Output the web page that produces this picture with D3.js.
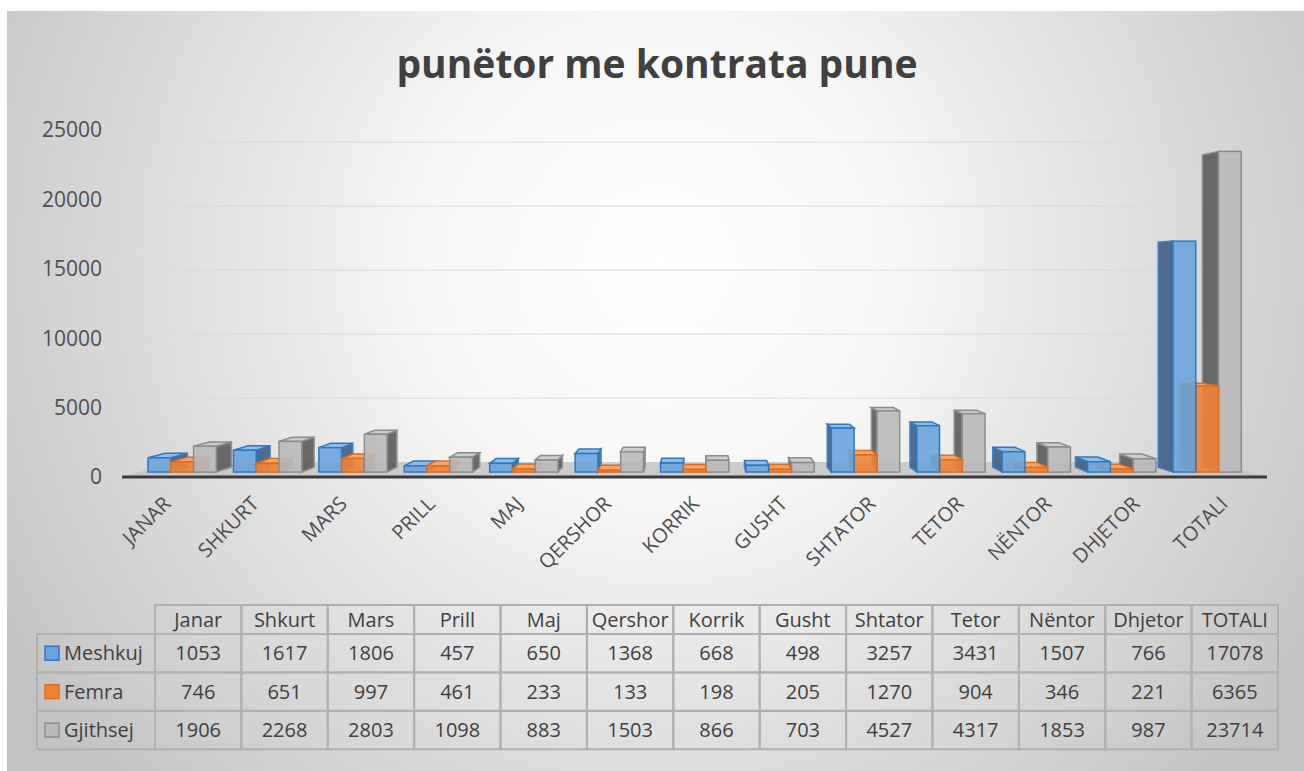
<!DOCTYPE html>
<meta charset="utf-8">
<style>
body { margin: 0; background: #fff; }
svg { display: block; font-family: "Open Sans", sans-serif; }
.tick-label { fill: #4f4f4f; font-size: 21px; }
.cat-label { fill: #4f4f4f; font-size: 20px; }
.title { fill: #404040; font-size: 39px; font-weight: bold; }
.grid { fill: none; stroke: #d9d9d9; stroke-width: 1px; }
.cell { fill: none; stroke: #b0b0b0; stroke-width: 2px; }
.cell-text { fill: #404040; font-size: 20px; }
</style>
<body>
<script src="https://cdnjs.cloudflare.com/ajax/libs/d3/7.8.5/d3.min.js"></script>
<script>
var width = 1304,
    height = 771;

var categories = ["JANAR", "SHKURT", "MARS", "PRILL", "MAJ", "QERSHOR", "KORRIK", "GUSHT", "SHTATOR", "TETOR", "NËNTOR", "DHJETOR", "TOTALI"];
var tableHeaders = ["Janar", "Shkurt", "Mars", "Prill", "Maj", "Qershor", "Korrik", "Gusht", "Shtator", "Tetor", "Nëntor", "Dhjetor", "TOTALI"];
var seriesNames = ["Meshkuj", "Femra", "Gjithsej"];
var meshkuj = [1053, 1617, 1806, 457, 650, 1368, 668, 498, 3257, 3431, 1507, 766, 17078];
var femra = [746, 651, 997, 461, 233, 133, 198, 205, 1270, 904, 346, 221, 6365];
var gjithsej = [1906, 2268, 2803, 1098, 883, 1503, 866, 703, 4527, 4317, 1853, 987, 23714];
var yTicks = [0, 5000, 10000, 15000, 20000, 25000];

var seriesValues = [meshkuj, femra, gjithsej];

var colors = {
  Meshkuj: {front: "#6aa4db", side: "#3f5f86", top: "#8fbde8", stroke: "#2f78c0"},
  Femra: {front: "#ee8438", side: "#b65a1d", top: "#f5a56e", stroke: "#e06d1c"},
  Gjithsej: {front: "#b9b9b9", side: "#5c5c5c", top: "#cdcdcd", stroke: "#8c8c8c"}
};

// simple perspective: z = 0 front plane, z = 1 back wall
var vx = 700, vy = 285, kx = 0.0917, ky = 0.078;
function P(X, Y, z) {
  var sx = 1 - kx * z, sy = 1 - ky * z;
  return [vx + (X - vx) * sx, vy + (Y - vy) * sy];
}
var zFront = 0.33, zBack = 0.66;

var x = d3.scaleBand().domain(categories).range([122, 1267]);
var xs = d3.scaleBand().domain(seriesNames).range([0, x.bandwidth() * 0.8]);
var y = d3.scaleLinear().domain([0, 25000]).range([477, 130]);

var svg = d3.select("body").append("svg")
    .attr("width", width)
    .attr("height", height);

var defs = svg.append("defs");
var bg = defs.append("radialGradient")
    .attr("id", "bg")
    .attr("gradientUnits", "userSpaceOnUse")
    .attr("cx", 660).attr("cy", 260).attr("r", 780);
bg.append("stop").attr("offset", 0).attr("stop-color", "#ffffff");
bg.append("stop").attr("offset", 0.3).attr("stop-color", "#f7f7f7");
bg.append("stop").attr("offset", 1).attr("stop-color", "#c2c2c2");

svg.append("rect")
    .attr("x", 7).attr("y", 11)
    .attr("width", width - 7).attr("height", height - 11)
    .attr("fill", "url(#bg)");

svg.append("text")
    .attr("class", "title")
    .attr("x", 657).attr("y", 78)
    .attr("text-anchor", "middle")
    .text("punëtor me kontrata pune");

// gridlines: left wall + back wall
var line = d3.line();
svg.selectAll(".grid")
    .data(yTicks.filter(function(t) { return t > 0; }))
  .enter().append("path")
    .attr("class", "grid")
    .attr("d", function(t) {
      return line([P(122, y(t), 0), P(122, y(t), 1), P(1267, y(t), 1)]);
    });

svg.selectAll(".tick-label")
    .data(yTicks)
  .enter().append("text")
    .attr("class", "tick-label")
    .attr("x", 102)
    .attr("y", function(t) { return y(t); })
    .attr("dy", "0.35em")
    .attr("text-anchor", "end")
    .text(function(t) { return t; });

// floor
svg.append("path")
    .attr("d", line([P(122, y(0), 0), P(1267, y(0), 0), P(1267, y(0), 1), P(122, y(0), 1)]) + "Z")
    .attr("fill", "#c4c4c4")
    .attr("opacity", 0.85);
svg.append("path")
    .attr("d", line([P(122, y(0), 0), P(1267, y(0), 0)]))
    .attr("stroke", "#3a3a3a")
    .attr("stroke-width", 3);

// bars
var bars = [];
categories.forEach(function(c, i) {
  seriesNames.forEach(function(s, j) {
    var X0 = x(c) + x.bandwidth() * 0.1 + xs(s);
    bars.push({cat: c, series: s, value: seriesValues[j][i], X0: X0, X1: X0 + xs.bandwidth()});
  });
});
bars.sort(function(a, b) {
  return Math.abs((b.X0 + b.X1) / 2 - vx) - Math.abs((a.X0 + a.X1) / 2 - vx);
});

var barG = svg.append("g");
bars.forEach(function(b) {
  var g = barG.append("g");
  var col = colors[b.series];
  var yt = y(b.value), yb = y(0);
  var sideX = null;
  if (b.X1 < vx) sideX = b.X1;
  else if (b.X0 > vx) sideX = b.X0;
  if (sideX !== null) {
    g.append("path")
        .attr("d", line([P(sideX, yt, zFront), P(sideX, yt, zBack), P(sideX, yb, zBack), P(sideX, yb, zFront)]) + "Z")
        .attr("fill", col.side)
        .attr("stroke", col.stroke)
        .attr("stroke-width", 1.5)
        .attr("opacity", 0.9);
  }
  if (P(0, yt, zFront)[1] > vy) {
    g.append("path")
        .attr("d", line([P(b.X0, yt, zFront), P(b.X1, yt, zFront), P(b.X1, yt, zBack), P(b.X0, yt, zBack)]) + "Z")
        .attr("fill", col.top)
        .attr("stroke", col.stroke)
        .attr("stroke-width", 1.5);
  }
  var f0 = P(b.X0, yt, zFront), f1 = P(b.X1, yb, zFront);
  g.append("rect")
      .attr("x", f0[0]).attr("y", f0[1])
      .attr("width", f1[0] - f0[0]).attr("height", f1[1] - f0[1])
      .attr("fill", col.front)
      .attr("fill-opacity", 0.9)
      .attr("stroke", col.stroke)
      .attr("stroke-width", 1.5);
});

svg.selectAll(".cat-label")
    .data(categories)
  .enter().append("text")
    .attr("class", "cat-label")
    .attr("text-anchor", "end")
    .attr("transform", function(c) {
      return "translate(" + (x(c) + x.bandwidth() / 2 + 6) + ",505) rotate(-45)";
    })
    .text(function(c) { return c; });

// data table
var colX = d3.scaleBand().domain(tableHeaders).range([155, 1278]);
var rowY = d3.scaleBand().domain(seriesNames).range([634, 749.3]);
var table = svg.append("g");

table.selectAll(".head")
    .data(tableHeaders)
  .enter().append("rect")
    .attr("class", "cell")
    .attr("x", function(h) { return colX(h); })
    .attr("y", 605)
    .attr("width", colX.bandwidth())
    .attr("height", 634 - 605);
table.selectAll(".head-text")
    .data(tableHeaders)
  .enter().append("text")
    .attr("class", "cell-text")
    .attr("x", function(h) { return colX(h) + colX.bandwidth() / 2; })
    .attr("y", 620)
    .attr("dy", "0.35em")
    .attr("text-anchor", "middle")
    .text(function(h) { return h; });

seriesNames.forEach(function(s, j) {
  var ry = rowY(s), rh = rowY.bandwidth();
  table.append("rect")
      .attr("class", "cell")
      .attr("x", 37).attr("y", ry)
      .attr("width", 155 - 37).attr("height", rh);
  table.append("rect")
      .attr("x", 45).attr("y", ry + rh / 2 - 7)
      .attr("width", 14).attr("height", 14)
      .attr("fill", colors[s].front)
      .attr("stroke", colors[s].stroke)
      .attr("stroke-width", 1.5);
  table.append("text")
      .attr("class", "cell-text")
      .attr("x", 64).attr("y", ry + rh / 2)
      .attr("dy", "0.35em")
      .text(s);
  table.selectAll(".row" + j)
      .data(seriesValues[j])
    .enter().append("rect")
      .attr("class", "cell")
      .attr("x", function(v, i) { return colX(tableHeaders[i]); })
      .attr("y", ry)
      .attr("width", colX.bandwidth())
      .attr("height", rh);
  table.selectAll(".rowtext" + j)
      .data(seriesValues[j])
    .enter().append("text")
      .attr("class", "cell-text")
      .attr("x", function(v, i) { return colX(tableHeaders[i]) + colX.bandwidth() / 2; })
      .attr("y", ry + rh / 2)
      .attr("dy", "0.35em")
      .attr("text-anchor", "middle")
      .text(function(v) { return v; });
});
</script>
